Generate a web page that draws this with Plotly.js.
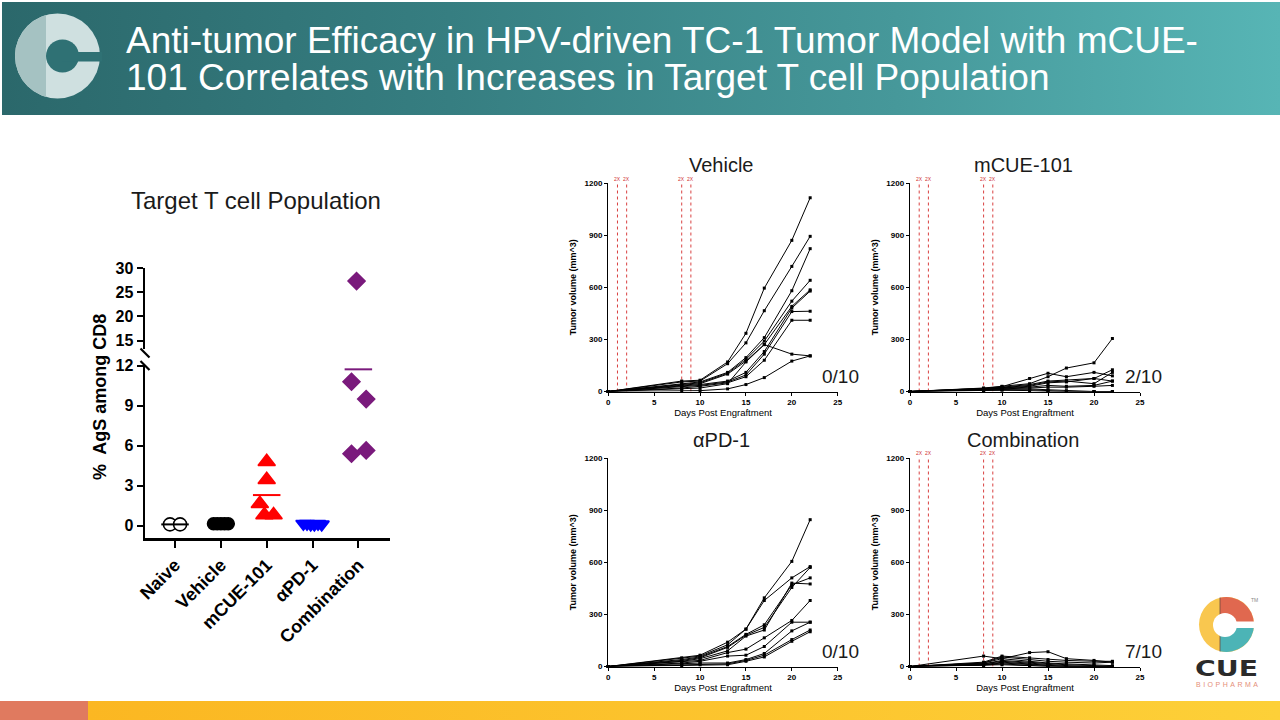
<!DOCTYPE html>
<html><head><meta charset="utf-8">
<script src="https://cdn.plot.ly/plotly-3.0.1.min.js"></script>
<style>
html,body{margin:0;padding:0;width:1280px;height:720px;overflow:hidden;background:#fff;font-family:Arial,"Liberation Sans",sans-serif;}
#header{position:absolute;left:2px;top:2px;width:1278px;height:113px;background:linear-gradient(90deg,#2b686b 0%,#367e81 35%,#46989a 70%,#57b5b5 100%);}
#htitle{position:absolute;left:126px;top:22px;width:1150px;font-family:Arial,"Liberation Sans",sans-serif;font-size:37px;line-height:37px;color:#fff;white-space:nowrap;}
#footL{position:absolute;left:0;top:701px;width:88px;height:19px;background:#e07a5f;}
#footR{position:absolute;left:88px;top:701px;width:1192px;height:19px;background:linear-gradient(90deg,#fbb722,#fdd038);}
#chart{position:absolute;left:0;top:0;width:1280px;height:720px;}
svg.logo{position:absolute;left:0;top:0;}
</style></head>
<body>
<div id="header"></div>
<div id="htitle">Anti-tumor Efficacy in HPV-driven TC-1 Tumor Model with mCUE-<br>101 Correlates with Increases in Target T cell Population</div>
<div id="footL"></div>
<div id="footR"></div>
<svg class="logo" width="1280" height="720" xmlns="http://www.w3.org/2000/svg">
  <defs>
    <clipPath id="leftHalf"><rect x="0" y="0" width="46" height="120"/></clipPath>
    <clipPath id="rightHalf"><rect x="46" y="0" width="80" height="120"/></clipPath>
  </defs>
  <circle cx="57.5" cy="56" r="42.5" fill="#cfe0e0"/>
  <circle cx="57.5" cy="56" r="42.5" fill="#a5c2c2" clip-path="url(#leftHalf)"/>
  <ellipse cx="62.5" cy="56" rx="16.5" ry="16.5" fill="#2f7174" clip-path="url(#rightHalf)"/>
  <rect x="62" y="52" width="40" height="9.5" fill="#2f7174"/>
  <!-- CUE logo -->
  <g>
    <circle cx="1226.5" cy="624.5" r="27.5" fill="#f9c74f"/>
    <path d="M1220,624.5 L1254,624.5 A27.5,27.5 0 0 0 1220,597.8 Z" fill="#e0684f"/>
    <path d="M1220,624.5 L1254,624.5 A27.5,27.5 0 0 1 1220,651.2 Z" fill="#4cb4b6"/>
    <line x1="1220" y1="597.5" x2="1220" y2="651.5" stroke="#6e4a3c" stroke-width="0.8"/>
    <circle cx="1225" cy="625" r="12" fill="#ffffff"/>
    <rect x="1225" y="621.5" width="32" height="6.5" fill="#ffffff"/>
    <text x="1195" y="676" font-family="DejaVu Sans" font-weight="bold" font-size="22" fill="#2b2b2b" textLength="63" lengthAdjust="spacingAndGlyphs">CUE</text>
    <text x="1196" y="687" font-family="Arial, Liberation Sans" font-size="7" fill="#e58f7a" textLength="62" lengthAdjust="spacing">BIOPHARMA</text>
    <text x="1251" y="602" font-family="Arial, Liberation Sans" font-size="5" fill="#888">TM</text>
  </g>
</svg>
<div id="chart"></div>
<script>
// ---------- DATA ----------
const groups = ['Naive', 'Vehicle', 'mCUE-101', 'αPD-1', 'Combination'];
const naiveVals = [0.1, 0.1];
const naiveJitter = [-0.11, 0.11];
const vehicleVals = [0.15, 0.15, 0.15, 0.15, 0.15];
const vehicleJitter = [-0.16, -0.08, 0, 0.08, 0.16];
const mcueVals = [4.8, 3.45, 1.65, 0.8, 0.8];
const mcueJitter = [0, 0, -0.15, -0.05, 0.15];
const pd1Vals = [0.15, 0.15, 0.1, 0.1, 0.15, 0.1];
const pd1Jitter = [-0.2, -0.12, -0.04, 0.04, 0.12, 0.2];
const comboVals = [27.3, 10.8, 9.5, 5.65, 5.4];
const comboJitter = [-0.04, -0.15, 0.17, 0.17, -0.15];
const lowerTicks = [0, 3, 6, 9, 12];
const upperTicks = [15, 20, 25, 30];

const days = [0, 8, 10, 13, 15, 17, 20, 22];
const vehicleMice = [
  [0, 60, 65, 170, 335, 595, 870, 1115],
  [0, 55, 60, 160, 280, 465, 720, 893],
  [0, 45, 55, 110, 195, 310, 580, 822],
  [0, 40, 50, 105, 185, 290, 520, 640],
  [0, 35, 45, 100, 175, 270, 490, 585],
  [0, 30, 40, 60, 110, 230, 480, 578],
  [0, 25, 35, 55, 95, 215, 460, 462],
  [0, 20, 30, 50, 85, 180, 410, 410],
  [0, 15, 20, 45, 170, 270, 215, 205],
  [0, 5, 5, 15, 40, 80, 175, 205]
];
const mcueMice = [
  [0, 20, 30, 45, 85, 135, 165, 305],
  [0, 18, 28, 75, 105, 85, 110, 90],
  [0, 15, 25, 40, 60, 65, 75, 125],
  [0, 15, 22, 35, 55, 60, 45, 110],
  [0, 12, 20, 30, 50, 55, 75, 60],
  [0, 10, 18, 25, 35, 30, 35, 60],
  [0, 10, 15, 20, 25, 25, 30, 35],
  [0, 8, 12, 15, 10, 5, 0, 0],
  [0, 5, 10, 10, 5, 0, 0, 0],
  [0, 5, 8, 5, 0, 0, 0, 0]
];
const pd1Mice = [
  [0, 50, 65, 140, 215, 395, 605, 845],
  [0, 45, 60, 125, 215, 380, 510, 575],
  [0, 40, 55, 115, 185, 240, 470, 510],
  [0, 35, 50, 110, 180, 225, 455, 570],
  [0, 30, 45, 90, 175, 210, 480, 475],
  [0, 25, 35, 80, 100, 165, 265, 380],
  [0, 20, 30, 60, 65, 115, 255, 255],
  [0, 15, 20, 20, 40, 75, 205, 255],
  [0, 10, 15, 15, 35, 65, 155, 210],
  [0, 5, 10, 10, 30, 55, 145, 200]
];
const comboMice = [
  [0, 60, 45, 80, 85, 45, 35, 25],
  [0, 25, 60, 50, 40, 35, 30, 30],
  [0, 20, 55, 40, 30, 25, 20, 25],
  [0, 20, 45, 30, 20, 15, 10, 5],
  [0, 15, 35, 25, 15, 10, 5, 0],
  [0, 15, 30, 20, 10, 5, 0, 0],
  [0, 10, 25, 15, 5, 0, 0, 0],
  [0, 10, 20, 10, 5, 0, 0, 0],
  [0, 8, 15, 5, 0, 0, 0, 0],
  [0, 5, 10, 5, 0, 0, 0, 0]
];
const doseDays = [1, 2, 8, 9];
const doseLabel = '2X';
const panelNames = ['Vehicle', 'mCUE-101', 'αPD-1', 'Combination'];
const cureFractions = ['0/10', '2/10', '0/10', '7/10'];
const panelXTicks = [0, 5, 10, 15, 20, 25];
const panelYTicks = [0, 300, 600, 900, 1200];

// ---------- LAYOUT HELPERS ----------
const W = 1280, H = 720;
const px = x => x / W;
const py = y => 1 - y / H;
const FONT = 'Arial, "Liberation Sans", sans-serif';

const traces = [];
const annotations = [];
const shapes = [];

// ---------- LEFT SCATTER ----------
const scatterGroups = [
  {vals: naiveVals, jit: naiveJitter, sym: 'circle', size: 13, color: '#ffffff', line: '#000000', mean: '#000000'},
  {vals: vehicleVals, jit: vehicleJitter, sym: 'circle', size: 12, color: '#000000', line: '#000000', mean: '#000000'},
  {vals: mcueVals, jit: mcueJitter, sym: 'triangle-up', size: 15, color: '#ff0000', line: '#ff0000', mean: '#ff0000'},
  {vals: pd1Vals, jit: pd1Jitter, sym: 'triangle-down', size: 13, color: '#0000ff', line: '#0000ff', mean: '#0000ff'},
  {vals: comboVals, jit: comboJitter, sym: 'diamond', size: 13, color: '#7a1a7c', line: '#7a1a7c', mean: '#7a1a7c'}
];
scatterGroups.forEach((g, i) => {
  const xs = g.jit.map(j => i + j);
  ['y', 'y2'].forEach(ya => {
    traces.push({
      type: 'scatter', mode: 'markers', xaxis: 'x', yaxis: ya,
      x: xs, y: g.vals, cliponaxis: true, hoverinfo: 'skip',
      marker: {symbol: g.sym, size: g.size, color: g.color, line: {color: g.line, width: 1.6}}
    });
  });
});
scatterGroups.forEach((g, i) => {
  const m = g.vals.reduce((a, b) => a + b, 0) / g.vals.length;
  ['y', 'y2'].forEach(ya => {
    traces.push({
      type: 'scatter', mode: 'lines', xaxis: 'x', yaxis: ya,
      x: [i - 0.3, i + 0.3], y: [m, m], hoverinfo: 'skip',
      line: {color: g.mean, width: 2}
    });
  });
});

const layout = {
  width: W, height: H,
  margin: {l: 0, r: 0, t: 0, b: 0},
  paper_bgcolor: 'rgba(0,0,0,0)',
  plot_bgcolor: 'rgba(0,0,0,0)',
  showlegend: false,
  font: {family: FONT, color: '#000'},
  xaxis: {
    domain: [px(145), px(390)], range: [-0.655, 4.69], anchor: 'y',
    tickvals: groups.map((_, i) => i), ticktext: groups, tickangle: -45,
    ticks: 'outside', ticklen: 7, tickwidth: 2, tickcolor: '#000',
    showline: true, linewidth: 2.5, linecolor: '#000', showgrid: false, zeroline: false,
    tickfont: {family: FONT, size: 18, weight: 'bold', color: '#000'}
  },
  yaxis: {
    domain: [py(538), py(364)], range: [-0.92, 12.13], anchor: 'x',
    tickvals: lowerTicks, ticks: 'outside', ticklen: 6, tickwidth: 2, tickcolor: '#000',
    showline: true, linewidth: 2.5, linecolor: '#000', showgrid: false, zeroline: false,
    tickfont: {family: FONT, size: 16, weight: 'bold', color: '#000'}
  },
  yaxis2: {
    domain: [py(349), py(268)], range: [13.29, 30], anchor: 'x',
    tickvals: upperTicks, ticks: 'outside', ticklen: 6, tickwidth: 2, tickcolor: '#000',
    showline: true, linewidth: 2.5, linecolor: '#000', showgrid: false, zeroline: false,
    tickfont: {family: FONT, size: 16, weight: 'bold', color: '#000'}
  }
};

// axis break marks
[353, 365.5].forEach(yc => {
  shapes.push({type: 'line', xref: 'paper', yref: 'paper',
    x0: px(140.5), y0: py(yc - 4.5), x1: px(149.5), y1: py(yc + 4.5),
    line: {color: '#000', width: 2.2}});
});

annotations.push({xref: 'paper', yref: 'paper', x: px(256), y: py(200), text: 'Target T cell Population',
  showarrow: false, xanchor: 'center', yanchor: 'middle', font: {family: FONT, size: 24, color: '#1a1a1a'}});
annotations.push({xref: 'paper', yref: 'paper', x: px(100), y: py(397), text: '%  AgS among CD8', textangle: -90,
  showarrow: false, xanchor: 'center', yanchor: 'middle', font: {family: FONT, size: 18, weight: 'bold', color: '#000'}});

// ---------- GROWTH PANELS ----------
const panelGeo = [
  {xd: [608.3, 837.7], yd: [391.5, 183], dose: true},
  {xd: [910, 1140], yd: [391.5, 183], dose: true},
  {xd: [608.3, 837.7], yd: [666.5, 458], dose: false},
  {xd: [910, 1140], yd: [666.5, 458], dose: true}
];
const panelMice = [vehicleMice, mcueMice, pd1Mice, comboMice];

panelGeo.forEach((g, p) => {
  const xn = p + 2, yn = p + 3;
  const xa = 'x' + xn, ya = 'y' + yn;
  layout['xaxis' + xn] = {
    domain: [px(g.xd[0]), px(g.xd[1])], range: [0, 25], anchor: ya,
    tickvals: panelXTicks, ticks: 'outside', ticklen: 3, tickwidth: 1, tickcolor: '#000',
    showline: true, linewidth: 1.3, linecolor: '#000', showgrid: false, zeroline: false,
    tickfont: {family: FONT, size: 8, weight: 'bold', color: '#000'},
    title: {text: 'Days Post Engraftment', font: {family: FONT, size: 9.5, color: '#000'}, standoff: 3}
  };
  layout['yaxis' + yn] = {
    domain: [py(g.yd[0]), py(g.yd[1])], range: [0, 1200], anchor: xa,
    tickvals: panelYTicks, ticks: 'outside', ticklen: 3, tickwidth: 1, tickcolor: '#000',
    showline: true, linewidth: 1.3, linecolor: '#000', showgrid: false, zeroline: false,
    tickfont: {family: FONT, size: 8, weight: 'bold', color: '#000'},
    title: {text: 'Tumor volume (mm^3)', font: {family: FONT, size: 9, weight: 'bold', color: '#000'}, standoff: 6}
  };
  if (g.dose) {
    doseDays.forEach(d => {
      shapes.push({type: 'line', xref: xa, yref: ya, x0: d, x1: d, y0: 0, y1: 1200, layer: 'below',
        line: {color: '#d94040', width: 1, dash: 'dot'}});
      annotations.push({xref: xa, yref: 'paper', x: d, y: py(g.yd[1] + 0.5), text: doseLabel, showarrow: false,
        xanchor: 'center', yanchor: 'bottom', font: {family: FONT, size: 5, color: '#d03030'}});
    });
  }
  panelMice[p].forEach(m => {
    traces.push({
      type: 'scatter', mode: 'lines+markers', xaxis: xa, yaxis: ya, x: days, y: m,
      cliponaxis: false, hoverinfo: 'skip',
      line: {color: '#000', width: 1}, marker: {symbol: 'square', size: 3, color: '#000'}
    });
  });
  annotations.push({xref: 'paper', yref: 'paper', x: px((g.xd[0] + g.xd[1]) / 2 - 2), y: py(g.yd[1] - 18),
    text: panelNames[p], showarrow: false, xanchor: 'center', yanchor: 'middle',
    font: {family: FONT, size: 20, color: '#1a1a1a'}});
  annotations.push({xref: 'paper', yref: 'paper', x: px(g.xd[1] + 3), y: py(g.yd[0] - 15),
    text: cureFractions[p], showarrow: false, xanchor: 'center', yanchor: 'middle',
    font: {family: FONT, size: 19, color: '#1a1a1a'}});
});

layout.annotations = annotations;
layout.shapes = shapes;

Plotly.newPlot('chart', traces, layout, {staticPlot: true, displayModeBar: false});
</script>
</body></html>
